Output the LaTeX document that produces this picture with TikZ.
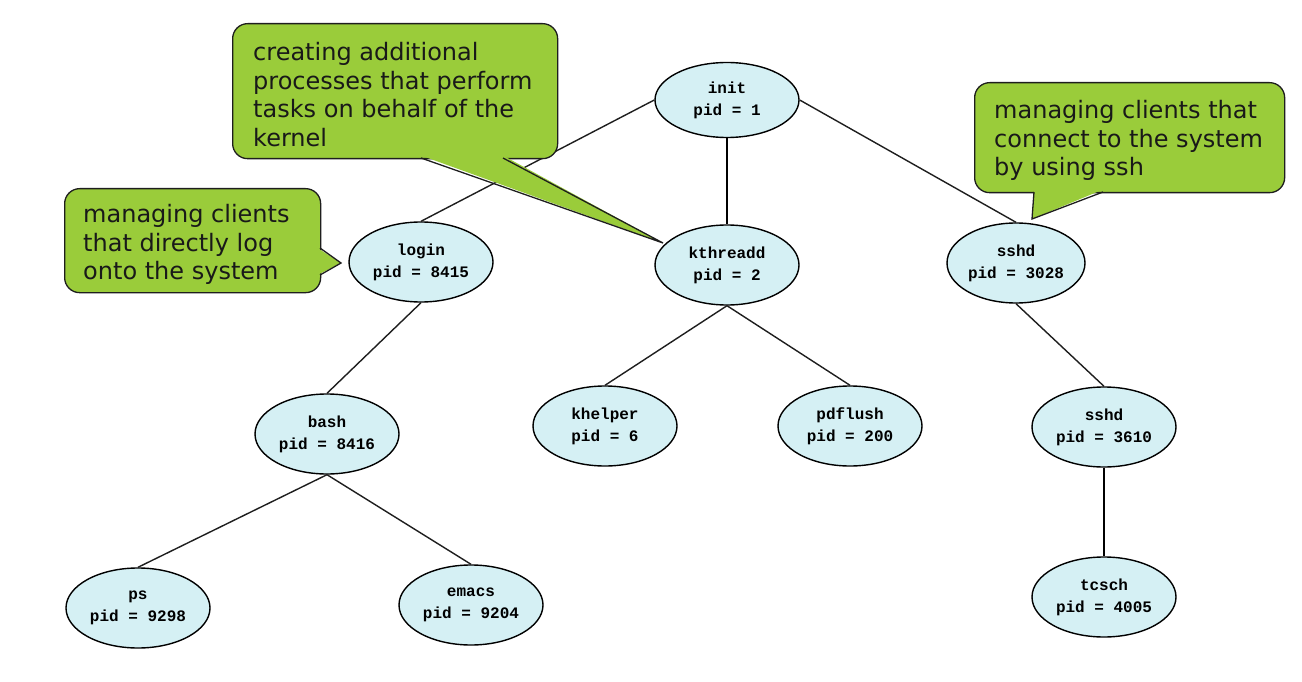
\documentclass[tikz,border=0pt]{standalone}
\usepackage{fontspec}
\setmainfont{DejaVu Sans}
\newfontfamily\procfont{Liberation Mono}
\usetikzlibrary{shapes.geometric}
\definecolor{callgreen}{RGB}{154,204,58}
\definecolor{procfill}{RGB}{213,240,244}
\definecolor{edgegray}{RGB}{30,30,30}
\begin{document}
\begin{tikzpicture}[x=1pt,y=-1pt,
  proc/.style={ellipse, draw=black, line width=1.4pt, fill=procfill,
    minimum width=144pt, minimum height=80pt, inner sep=0pt, align=center,
    font=\procfont\bfseries\fontsize{16}{22}\selectfont},
  edge/.style={draw=edgegray, line width=1.4pt},
  thickedge/.style={draw=black, line width=2.4pt},
  callbox/.style={draw=edgegray, line width=1.3pt, fill=callgreen,
    rounded corners=15pt, anchor=north west, inner sep=0pt},
  calltext/.style={anchor=north west, inner sep=0pt, align=left,
    font=\fontsize{24}{28.7}\selectfont, text=black!90},
  pointer/.style={fill=callgreen},
  pointerline/.style={draw=edgegray, line width=1.3pt, line join=miter}
]
\useasboundingbox (0,0) rectangle (1302,682);
\fill[white] (0,0) rectangle (1302,682);

% processes
\node[proc, minimum height=75pt] (init) at (727,100) {init\\pid = 1};
\node[proc] (login) at (421,262) {login\\pid = 8415};
\node[proc] (kthreadd) at (727,265) {kthreadd\\pid = 2};
\node[proc, minimum width=138pt] (sshdA) at (1016,263) {sshd\\pid = 3028};
\node[proc] (bash) at (327,434) {bash\\pid = 8416};
\node[proc] (khelper) at (605,426) {khelper\\pid = 6};
\node[proc] (pdflush) at (850,426) {pdflush\\pid = 200};
\node[proc] (sshdB) at (1104,427) {sshd\\pid = 3610};
\node[proc] (ps) at (138,608) {ps\\pid = 9298};
\node[proc] (emacs) at (471,605) {emacs\\pid = 9204};
\node[proc] (tcsch) at (1104,597) {tcsch\\pid = 4005};

% connectors
\draw[edge] (init.west) -- (login.north);
\draw[thickedge] (init.south) -- (kthreadd.north);
\draw[edge] (init.east) -- (sshdA.north);
\draw[edge] (login.south) -- (bash.north);
\draw[edge] (kthreadd.south) -- (khelper.north);
\draw[edge] (kthreadd.south) -- (pdflush.north);
\draw[edge] (sshdA.south) -- (sshdB.north);
\draw[thickedge] (sshdB.south) -- (tcsch.north);
\draw[edge] (bash.south) -- (ps.north);
\draw[edge] (bash.south) -- (emacs.north);

% callout: kthreadd
\node[callbox, minimum width=325pt, minimum height=135pt] (boxK) at (232,23) {};
\coordinate (tipK) at (663,243);
\fill[pointer] (421,155.5) -- (tipK) -- (503,155.5) -- cycle;
\draw[pointerline] (421,158) -- (tipK) -- (503,158);
\node[calltext] (txtK) at (253,42) {creating additional\\processes that perform\\tasks on behalf of the\\kernel};

% callout: login
\node[callbox, minimum width=256pt, minimum height=104pt] (boxL) at (64,188) {};
\coordinate (tipL) at (341,263);
\fill[pointer] (317.5,248) -- (tipL) -- (317.5,275) -- cycle;
\draw[pointerline] (320,248) -- (tipL) -- (320,275);
\node[calltext] (txtL) at (83,204) {managing clients\\that directly log\\onto the system};

% callout: sshd
\node[callbox, minimum width=310pt, minimum height=110pt] (boxS) at (974,82) {};
\coordinate (tipS) at (1032,219);
\fill[pointer] (1034,189.5) -- (tipS) -- (1103,189.5) -- cycle;
\draw[pointerline] (1034,192) -- (tipS) -- (1103,192);
\node[calltext] (txtS) at (994,100) {managing clients that\\connect to the system\\by using ssh};
\end{tikzpicture}
\end{document}
